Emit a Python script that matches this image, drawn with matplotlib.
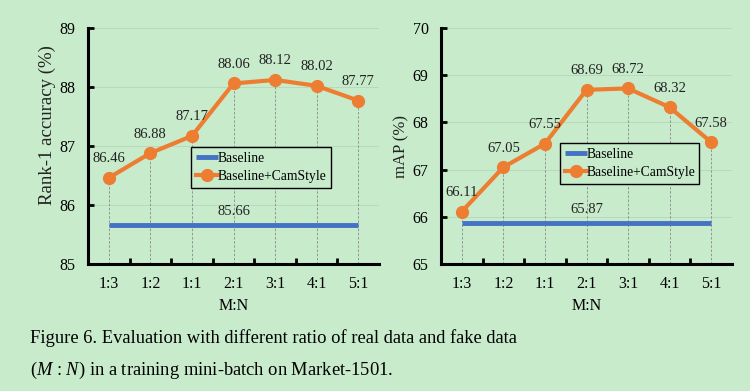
import matplotlib
matplotlib.use("Agg")
import matplotlib.pyplot as plt
import numpy as np

categories = ["1:3", "1:2", "1:1", "2:1", "3:1", "4:1", "5:1"]
rank1_cam = [86.46, 86.88, 87.17, 88.06, 88.12, 88.02, 87.77]
rank1_base = 85.66
map_cam = [66.11, 67.05, 67.55, 68.69, 68.72, 68.32, 67.58]
map_base = 65.87

bg = "#c8ebcc"
blue = "#4472C4"
orange = "#ED7D31"

plt.rcParams["font.family"] = ["Liberation Serif", "DejaVu Serif"]
plt.rcParams["mathtext.fontset"] = "custom"
plt.rcParams["mathtext.rm"] = "Liberation Serif"
plt.rcParams["mathtext.it"] = "Liberation Serif:italic"

fig = plt.figure(figsize=(7.5, 3.91), dpi=100, facecolor=bg)
W, H = 750, 391

def make_ax(left, right, top, bottom, cam, base, ylim, ylabel, ylabel_fs, ylabel_xy, legend_box):
    ax = fig.add_axes([left / W, 1 - bottom / H, (right - left) / W, (bottom - top) / H])
    ax.set_facecolor(bg)
    x = np.arange(len(categories))
    ax.set_xlim(-0.5, len(categories) - 0.5)
    ax.set_ylim(*ylim)
    for yv in range(ylim[0] + 1, ylim[1] + 1):
        ax.axhline(yv, color="#b5d6b8", lw=0.6, zorder=0)
    for xi, yi in zip(x, cam):
        ax.plot([xi, xi], [ylim[0], yi], color="#888888", lw=0.6, ls=(0, (3, 2)), zorder=1)
    ax.plot(x, [base] * len(x), color=blue, lw=3.5, solid_capstyle="butt", zorder=2, label="Baseline")
    ax.plot(x, cam, color=orange, lw=3, marker="o", ms=8.5, zorder=3, label="Baseline+CamStyle")
    for xi, yi in zip(x, cam):
        ax.annotate(f"{yi:.2f}", (xi, yi), xytext=(0, 9), textcoords="offset points",
                    ha="center", va="bottom", fontsize=10.5, color="#222222")
    ax.annotate(f"{base:.2f}", (3, base), xytext=(0, 5), textcoords="offset points",
                ha="center", va="bottom", fontsize=10.5, color="#222222")
    for s in ["top", "right"]:
        ax.spines[s].set_visible(False)
    for s in ["left", "bottom"]:
        ax.spines[s].set_linewidth(2.2)
        ax.spines[s].set_color("black")
    ax.set_xticks(x)
    ax.set_xticklabels(categories, fontsize=11.5)
    ax.set_xticks(np.arange(0.5, len(categories) - 0.5, 1.0), minor=True)
    ax.tick_params(axis="x", which="major", length=0, pad=9)
    ax.tick_params(axis="x", which="minor", length=4, width=2, direction="in")
    ax.set_yticks(range(ylim[0], ylim[1] + 1))
    ax.tick_params(axis="y", length=4, width=2, direction="in", labelsize=11.5, pad=9)
    ax.set_xlabel("M:N", fontsize=11.5, labelpad=4)
    ax.set_ylabel(ylabel, fontsize=ylabel_fs, color="#222222")
    ax.yaxis.set_label_coords(*ylabel_xy)
    leg = ax.legend(loc="lower left", bbox_to_anchor=legend_box, bbox_transform=fig.transFigure,
                    mode="expand",
                    frameon=True, fancybox=False, edgecolor="black", facecolor=bg, framealpha=1,
                    fontsize=9.8, handlelength=1.6, handletextpad=0.0, borderpad=0.35,
                    labelspacing=0.4, borderaxespad=0)
    leg.get_frame().set_linewidth(1.0)
    return ax

make_ax(88, 379, 28, 264, rank1_cam, rank1_base, (85, 89), "Rank-1 accuracy (%)", 13.5,
        (-0.11, 0.59), (191 / W, 1 - 188 / H, 140 / W, 39 / H))
make_ax(441, 732, 28, 264, map_cam, map_base, (65, 70), "mAP (%)", 12,
        (-0.11, 0.5), (560 / W, 1 - 184 / H, 139 / W, 39 / H))

fig.text(30 / W, 1 - 343 / H, "Figure 6. Evaluation with different ratio of real data and fake data",
         fontsize=13.3, va="baseline", ha="left")
fig.text(30 / W, 1 - 375 / H, r"($M$ : $N$) in a training mini-batch on Market-1501.",
         fontsize=13.3, va="baseline", ha="left")

fig.savefig("out.png", dpi=100, facecolor=bg)
